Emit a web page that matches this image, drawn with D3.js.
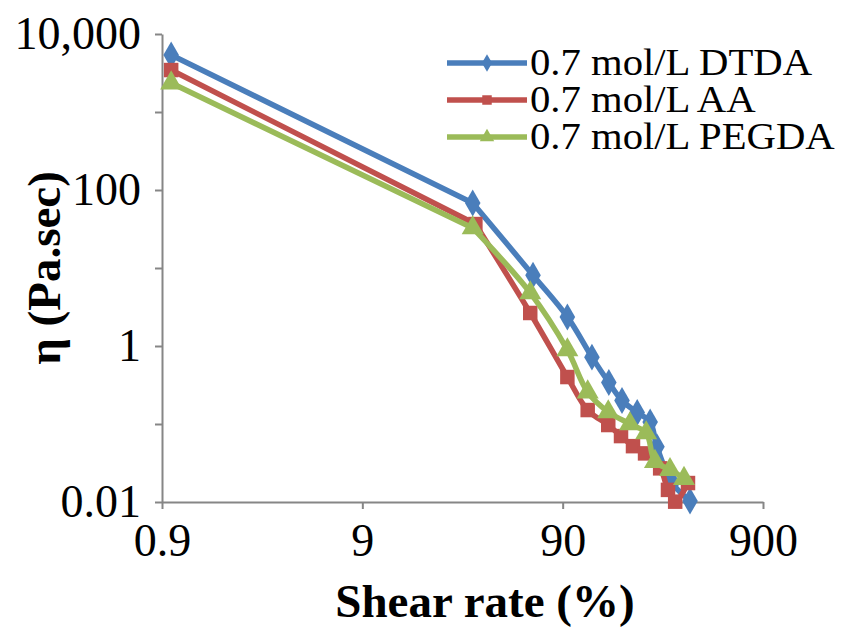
<!DOCTYPE html>
<html>
<head>
<meta charset="utf-8">
<script src="https://cdn.jsdelivr.net/npm/d3@7"></script>
<style>
  body { margin: 0; background: #fff; }
  .axis path, .axis line { stroke: #868686; stroke-width: 2; }
</style>
</head>
<body>
<svg id="chart" width="861" height="630"></svg>
<script>
(function () {
  var serif = "'Liberation Serif', 'DejaVu Serif', Times, serif";

  // series names shown in the legend
  var seriesNames = ["0.7 mol/L DTDA", "0.7 mol/L AA", "0.7 mol/L PEGDA"];

  // shear rate (%) and viscosity (Pa.sec)
  var dtdaX = [1.0, 32, 64, 95, 126, 153, 178, 212, 246, 266, 317, 389];
  var dtdaY = [5380, 68, 8.1, 2.36, 0.72, 0.34, 0.20, 0.14, 0.106, 0.051, 0.0175, 0.0103];

  var aaX = [1.0, 33, 62, 95, 120, 152, 176, 202, 232, 276, 302, 328, 380];
  var aaY = [3450, 36.6, 2.65, 0.40, 0.151, 0.097, 0.070, 0.052, 0.042, 0.027, 0.0143, 0.0101, 0.0175];

  var pegdaX = [1.0, 32, 62, 95, 120, 152, 195, 235, 260, 309, 363];
  var pegdaY = [2350, 32.6, 4.8, 0.89, 0.257, 0.143, 0.10, 0.077, 0.033, 0.026, 0.020];

  var xTicks = [0.9, 9, 90, 900];
  var yTicks = [0.01, 0.1, 1, 10, 100, 1000, 10000];
  var yLabels = {0.01: "0.01", 1: "1", 100: "100", 10000: "10,000"};

  var colors = ["#4a7ebb", "#c0504d", "#9bbb59"];
  var symbols = [d3.symbolDiamond, d3.symbolSquare, d3.symbolTriangle];

  var series = [
    {name: seriesNames[0], xs: dtdaX, ys: dtdaY},
    {name: seriesNames[1], xs: aaX, ys: aaY},
    {name: seriesNames[2], xs: pegdaX, ys: pegdaY}
  ];

  var svg = d3.select("#chart");
  var left = 162, right = 763, top = 34, bottom = 502;

  var x = d3.scaleLog().domain([0.9, 900]).range([left, right]);
  var y = d3.scaleLog().domain([0.01, 10000]).range([bottom, top]);

  // axes
  svg.append("g")
    .attr("class", "axis")
    .attr("transform", "translate(0," + bottom + ")")
    .call(d3.axisBottom(x).tickValues(xTicks).tickSize(7).tickSizeOuter(0).tickPadding(14)
      .tickFormat(function(d) { return String(d); }));

  svg.append("g")
    .attr("class", "axis")
    .attr("transform", "translate(" + left + ",0)")
    .call(d3.axisLeft(y).tickValues(yTicks).tickSize(7).tickSizeOuter(0).tickPadding(14)
      .tickFormat(function(d) { return yLabels[d] || ""; }));

  svg.selectAll(".axis").attr("font-family", serif).attr("font-size", 46);
  svg.selectAll(".axis .tick text").attr("fill", "#000");

  // axis titles
  svg.append("text")
    .attr("x", 485).attr("y", 617)
    .attr("text-anchor", "middle")
    .attr("font-family", serif)
    .attr("font-size", 47).attr("font-weight", "bold")
    .text("Shear rate (%)");

  svg.append("text")
    .attr("transform", "translate(60,268) rotate(-90)")
    .attr("text-anchor", "middle")
    .attr("font-family", serif)
    .attr("font-size", 47).attr("font-weight", "bold")
    .text("η (Pa.sec)");

  // first segment is straight in the original, the rest is smoothed
  var straight = d3.line()
    .x(function(d) { return x(d[0]); })
    .y(function(d) { return y(d[1]); });
  var smooth = d3.line()
    .x(function(d) { return x(d[0]); })
    .y(function(d) { return y(d[1]); })
    .curve(d3.curveCatmullRom.alpha(0.5));

  series.forEach(function(s, i) {
    var pts = d3.zip(s.xs, s.ys);
    var g = svg.append("g");
    [straight(pts.slice(0, 2)), smooth(pts.slice(1))].forEach(function(d) {
      g.append("path")
        .attr("fill", "none")
        .attr("stroke", colors[i])
        .attr("stroke-width", 5.5)
        .attr("stroke-linejoin", "round")
        .attr("stroke-linecap", "round")
        .attr("d", d);
    });
    g.selectAll("path.pt")
      .data(pts)
      .enter().append("path")
      .attr("class", "pt")
      .attr("fill", colors[i])
      .attr("transform", function(d) { return "translate(" + x(d[0]) + "," + y(d[1]) + ")"; })
      .attr("d", d3.symbol().type(symbols[i]).size(210));
  });

  // legend
  var legend = svg.append("g").attr("transform", "translate(447,63)");
  series.forEach(function(s, i) {
    var row = legend.append("g").attr("transform", "translate(0," + (i * 37) + ")");
    row.append("line")
      .attr("x1", 0).attr("x2", 80)
      .attr("stroke", colors[i]).attr("stroke-width", 5.5);
    row.append("path")
      .attr("transform", "translate(40,0)")
      .attr("fill", colors[i])
      .attr("d", d3.symbol().type(symbols[i]).size(90));
    row.append("text")
      .attr("transform", "translate(83,12) scale(1.1,1)")
      .attr("font-family", serif)
      .attr("font-size", 37)
      .text(s.name);
  });
}());
</script>
</body>
</html>
